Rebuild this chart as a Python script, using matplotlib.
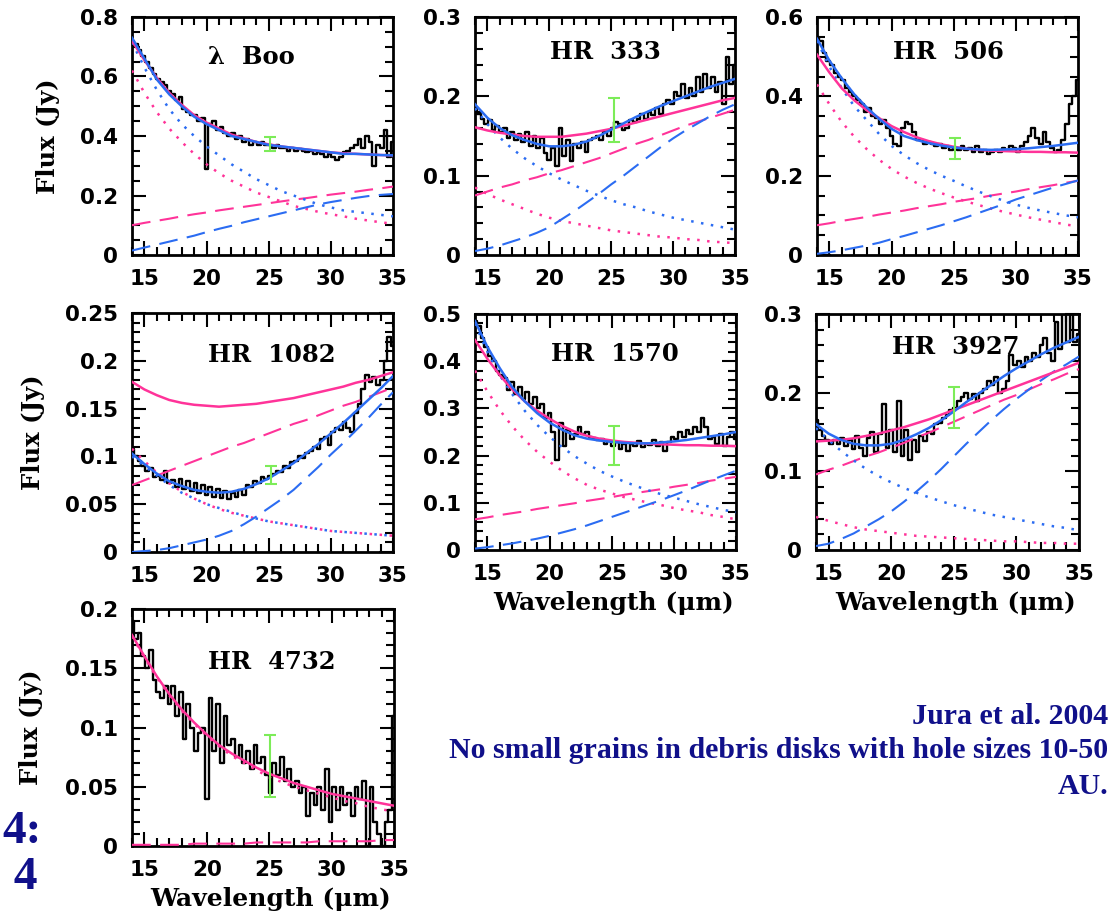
import numpy as np
import matplotlib.pyplot as plt
from matplotlib.ticker import MultipleLocator, FuncFormatter

plt.rcParams['font.family'] = 'DejaVu Sans'
plt.rcParams['font.weight'] = 'bold'

# wavelength grids (micron): model curves and IRS spectra
wave_model = np.arange(14, 36)
wave_spec = np.round(np.arange(14.0, 35.01, 0.3), 1)

# ---- lambda Boo ----
lboo_spec = [0.72, 0.71, 0.69, 0.67, 0.65, 0.63, 0.61, 0.59, 0.58, 0.57,
             0.55, 0.54, 0.52, 0.53, 0.49, 0.48, 0.47, 0.47, 0.45, 0.46,
             0.29, 0.44, 0.45, 0.42, 0.43, 0.41, 0.40, 0.41, 0.39, 0.40,
             0.38, 0.39, 0.37, 0.38, 0.37, 0.38, 0.37, 0.37, 0.36, 0.37,
             0.36, 0.36, 0.35, 0.36, 0.35, 0.355, 0.35, 0.345, 0.35, 0.34,
             0.345, 0.34, 0.33, 0.34, 0.33, 0.32, 0.33, 0.345, 0.35, 0.36,
             0.37, 0.39, 0.36, 0.40, 0.38, 0.30, 0.37, 0.36, 0.42, 0.33,
             0.38]
lboo_blue = [0.73, 0.66, 0.59, 0.54, 0.50, 0.465, 0.44, 0.42, 0.40, 0.39, 0.38,
             0.37, 0.365, 0.36, 0.355, 0.35, 0.345, 0.34, 0.34, 0.338, 0.336, 0.335]
lboo_blue_dot = [0.715, 0.63, 0.555, 0.49, 0.44, 0.40, 0.365, 0.335, 0.305, 0.28, 0.255,
                 0.235, 0.215, 0.20, 0.185, 0.17, 0.16, 0.15, 0.145, 0.14, 0.135, 0.13]
lboo_blue_dash = [0.015, 0.025, 0.035, 0.045, 0.055, 0.065, 0.077, 0.088, 0.098, 0.11, 0.12,
                  0.13, 0.14, 0.15, 0.16, 0.17, 0.178, 0.185, 0.192, 0.198, 0.202, 0.205]
lboo_pink = [0.72, 0.655, 0.595, 0.545, 0.505, 0.47, 0.445, 0.425, 0.405, 0.392, 0.38,
             0.372, 0.365, 0.36, 0.355, 0.35, 0.345, 0.342, 0.34, 0.338, 0.336, 0.335]
lboo_pink_dot = [0.62, 0.545, 0.48, 0.425, 0.38, 0.34, 0.305, 0.275, 0.25, 0.23, 0.21,
                 0.195, 0.18, 0.165, 0.155, 0.145, 0.137, 0.13, 0.122, 0.116, 0.11, 0.105]
lboo_pink_dash = [0.10, 0.108, 0.115, 0.122, 0.13, 0.137, 0.143, 0.15, 0.156, 0.162, 0.168,
                  0.174, 0.18, 0.186, 0.191, 0.197, 0.203, 0.208, 0.213, 0.219, 0.224, 0.23]

# ---- HR 333 ----
hr333_spec = [0.185, 0.178, 0.172, 0.165, 0.17, 0.158, 0.162, 0.155, 0.16, 0.148,
              0.155, 0.145, 0.152, 0.142, 0.155, 0.138, 0.15, 0.135, 0.148, 0.128,
              0.12, 0.135, 0.112, 0.16, 0.125, 0.145, 0.118, 0.14, 0.135, 0.142,
              0.13, 0.145, 0.148, 0.15, 0.145, 0.155, 0.15, 0.16, 0.168, 0.165,
              0.158, 0.16, 0.17, 0.168, 0.172, 0.178, 0.172, 0.18, 0.176, 0.185,
              0.178, 0.19, 0.196, 0.19, 0.205, 0.2, 0.215, 0.198, 0.21, 0.2,
              0.225, 0.205, 0.228, 0.21, 0.225, 0.205, 0.218, 0.19, 0.25, 0.215,
              0.24]
hr333_blue = [0.19, 0.173, 0.16, 0.151, 0.145, 0.14, 0.137, 0.137, 0.139, 0.143, 0.15,
              0.158, 0.166, 0.174, 0.181, 0.188, 0.194, 0.2, 0.206, 0.212, 0.217, 0.222]
hr333_blue_dot = [0.185, 0.165, 0.148, 0.134, 0.122, 0.112, 0.103, 0.095, 0.088, 0.081, 0.075,
                  0.069, 0.064, 0.06, 0.055, 0.051, 0.047, 0.044, 0.041, 0.038, 0.035, 0.032]
hr333_blue_dash = [0.005, 0.008, 0.012, 0.017, 0.022, 0.028, 0.035, 0.045, 0.055, 0.066, 0.077,
                   0.089, 0.1, 0.112, 0.124, 0.136, 0.147, 0.157, 0.166, 0.175, 0.183, 0.19]
hr333_pink = [0.161, 0.157, 0.154, 0.152, 0.15, 0.149, 0.149, 0.149, 0.151, 0.153, 0.156,
              0.159, 0.163, 0.167, 0.171, 0.175, 0.179, 0.183, 0.187, 0.191, 0.195, 0.198]
hr333_pink_dot = [0.085, 0.077, 0.07, 0.064, 0.058, 0.052, 0.047, 0.043, 0.04, 0.037, 0.034,
                  0.031, 0.029, 0.027, 0.025, 0.023, 0.022, 0.02, 0.019, 0.017, 0.016, 0.015]
hr333_pink_dash = [0.075, 0.08, 0.085, 0.089, 0.094, 0.098, 0.103, 0.107, 0.112, 0.117, 0.122,
                   0.128, 0.134, 0.14, 0.145, 0.151, 0.157, 0.163, 0.168, 0.173, 0.178, 0.183]

# ---- HR 506 ----
hr506_spec = [0.55, 0.54, 0.51, 0.49, 0.48, 0.46, 0.45, 0.44, 0.42, 0.41,
              0.40, 0.39, 0.38, 0.36, 0.37, 0.35, 0.345, 0.33, 0.34, 0.32,
              0.30, 0.28, 0.275, 0.32, 0.335, 0.33, 0.31, 0.29, 0.29, 0.28,
              0.285, 0.28, 0.275, 0.28, 0.27, 0.275, 0.265, 0.27, 0.265, 0.275,
              0.265, 0.27, 0.26, 0.275, 0.26, 0.265, 0.255, 0.26, 0.265, 0.26,
              0.27, 0.265, 0.275, 0.27, 0.26, 0.275, 0.285, 0.30, 0.32, 0.295,
              0.28, 0.31, 0.285, 0.27, 0.26, 0.265, 0.29, 0.33, 0.38, 0.40,
              0.44]
hr506_blue = [0.545, 0.49, 0.445, 0.405, 0.372, 0.343, 0.318, 0.3, 0.29, 0.282, 0.276,
              0.271, 0.268, 0.266, 0.265, 0.266, 0.267, 0.269, 0.272, 0.275, 0.279, 0.283]
hr506_blue_dot = [0.54, 0.475, 0.42, 0.375, 0.34, 0.305, 0.275, 0.252, 0.232, 0.215, 0.2,
                  0.187, 0.173, 0.16, 0.148, 0.137, 0.127, 0.119, 0.112, 0.106, 0.1, 0.095]
hr506_blue_dash = [0.003, 0.007, 0.012, 0.018, 0.024, 0.031, 0.04, 0.048, 0.057, 0.066, 0.075,
                   0.085, 0.095, 0.106, 0.117, 0.128, 0.14, 0.15, 0.16, 0.17, 0.179, 0.188]
hr506_pink = [0.505, 0.46, 0.42, 0.39, 0.365, 0.345, 0.325, 0.31, 0.297, 0.287, 0.279,
              0.273, 0.268, 0.265, 0.263, 0.262, 0.261, 0.26, 0.26, 0.259, 0.259, 0.258]
hr506_pink_dot = [0.43, 0.38, 0.335, 0.298, 0.267, 0.24, 0.217, 0.198, 0.182, 0.168, 0.156,
                  0.145, 0.135, 0.126, 0.117, 0.109, 0.102, 0.095, 0.089, 0.083, 0.077, 0.072]
hr506_pink_dash = [0.075, 0.08, 0.086, 0.091, 0.096, 0.102, 0.107, 0.112, 0.118, 0.123, 0.128,
                   0.134, 0.139, 0.144, 0.15, 0.155, 0.16, 0.166, 0.171, 0.176, 0.182, 0.187]

# ---- HR 1082 ----
hr1082_spec = [0.108, 0.1, 0.095, 0.09, 0.085, 0.088, 0.078, 0.08, 0.075, 0.085,
               0.072, 0.075, 0.068, 0.076, 0.066, 0.074, 0.064, 0.072, 0.062, 0.07,
               0.06, 0.068, 0.058, 0.066, 0.056, 0.064, 0.055, 0.062, 0.058, 0.065,
               0.06, 0.07, 0.068, 0.074, 0.072, 0.078, 0.076, 0.08, 0.082, 0.085,
               0.084, 0.09, 0.088, 0.094, 0.095, 0.1, 0.098, 0.104, 0.106, 0.11,
               0.108, 0.118, 0.12, 0.112, 0.125, 0.13, 0.128, 0.136, 0.13, 0.125,
               0.145, 0.155, 0.17, 0.185, 0.178, 0.183, 0.175, 0.18, 0.2, 0.225,
               0.215]
hr1082_blue = [0.103, 0.092, 0.082, 0.074, 0.069, 0.065, 0.063, 0.062, 0.063, 0.066, 0.071,
               0.077, 0.085, 0.093, 0.103, 0.113, 0.124, 0.135, 0.147, 0.159, 0.171, 0.184]
hr1082_blue_dot = [0.1, 0.09, 0.08, 0.07, 0.062, 0.056, 0.05, 0.046, 0.042, 0.038, 0.035,
                   0.032, 0.03, 0.028, 0.026, 0.024, 0.022, 0.021, 0.02, 0.019, 0.018, 0.017]
hr1082_blue_dash = [0.0, 0.001, 0.002, 0.004, 0.007, 0.01, 0.013, 0.017, 0.022, 0.029, 0.037,
                    0.046, 0.055, 0.065, 0.077, 0.089, 0.102, 0.114, 0.127, 0.14, 0.154, 0.167]
hr1082_pink = [0.178, 0.17, 0.164, 0.159, 0.156, 0.154, 0.153, 0.152, 0.153, 0.154, 0.155,
               0.157, 0.159, 0.161, 0.164, 0.167, 0.17, 0.173, 0.177, 0.18, 0.184, 0.188]
hr1082_pink_dot = [0.108, 0.095, 0.083, 0.072, 0.063, 0.056, 0.05, 0.045, 0.041, 0.038, 0.035,
                   0.032, 0.03, 0.028, 0.026, 0.024, 0.022, 0.021, 0.02, 0.019, 0.018, 0.017]
hr1082_pink_dash = [0.07, 0.075, 0.08, 0.085, 0.09, 0.095, 0.1, 0.105, 0.11, 0.114, 0.119,
                    0.124, 0.129, 0.134, 0.138, 0.143, 0.148, 0.153, 0.157, 0.162, 0.167, 0.172]

# ---- HR 1570 ----
hr1570_spec = [0.485, 0.475, 0.45, 0.43, 0.41, 0.4, 0.38, 0.37, 0.365, 0.34,
               0.355, 0.33, 0.345, 0.32, 0.335, 0.31, 0.325, 0.3, 0.31, 0.28,
               0.29, 0.25, 0.19, 0.27, 0.22, 0.255, 0.235, 0.245, 0.26, 0.245,
               0.25, 0.24, 0.238, 0.232, 0.235, 0.225, 0.23, 0.22, 0.228, 0.215,
               0.225, 0.21, 0.225, 0.22, 0.23, 0.218, 0.225, 0.222, 0.232, 0.22,
               0.228, 0.21, 0.228, 0.24, 0.235, 0.25, 0.24, 0.255, 0.245, 0.26,
               0.25, 0.28, 0.26, 0.235, 0.24, 0.225, 0.245, 0.22, 0.24, 0.25,
               0.235]
hr1570_blue = [0.485, 0.43, 0.385, 0.345, 0.315, 0.29, 0.27, 0.255, 0.243, 0.236, 0.232,
               0.229, 0.227, 0.226, 0.226, 0.228, 0.23, 0.233, 0.237, 0.241, 0.245, 0.25]
hr1570_blue_dot = [0.48, 0.42, 0.37, 0.33, 0.295, 0.265, 0.24, 0.218, 0.199, 0.183, 0.168,
                   0.156, 0.145, 0.135, 0.126, 0.118, 0.111, 0.104, 0.097, 0.091, 0.085, 0.08]
hr1570_blue_dash = [0.003, 0.006, 0.01, 0.014, 0.019, 0.024, 0.03, 0.037, 0.044, 0.052, 0.061,
                    0.07, 0.079, 0.088, 0.097, 0.106, 0.116, 0.126, 0.137, 0.148, 0.158, 0.168]
hr1570_pink = [0.445, 0.405, 0.37, 0.34, 0.315, 0.295, 0.278, 0.263, 0.251, 0.242, 0.236,
               0.232, 0.229, 0.227, 0.225, 0.224, 0.223, 0.222, 0.222, 0.221, 0.221, 0.22]
hr1570_pink_dot = [0.38, 0.336, 0.296, 0.262, 0.233, 0.208, 0.187, 0.168, 0.152, 0.138, 0.128,
                   0.12, 0.112, 0.106, 0.1, 0.095, 0.089, 0.084, 0.08, 0.074, 0.07, 0.065]
hr1570_pink_dash = [0.065, 0.069, 0.074, 0.078, 0.082, 0.087, 0.091, 0.095, 0.099, 0.104, 0.108,
                    0.112, 0.117, 0.121, 0.125, 0.129, 0.134, 0.138, 0.142, 0.147, 0.151, 0.155]

# ---- HR 3927 ----
hr3927_spec = [0.165, 0.152, 0.145, 0.14, 0.135, 0.14, 0.135, 0.142, 0.132, 0.14,
               0.128, 0.145, 0.13, 0.12, 0.142, 0.15, 0.125, 0.148, 0.185, 0.13,
               0.152, 0.125, 0.19, 0.12, 0.152, 0.115, 0.14, 0.125, 0.145, 0.138,
               0.15, 0.148, 0.16, 0.162, 0.168, 0.172, 0.178, 0.18, 0.19, 0.195,
               0.2, 0.192, 0.198, 0.19, 0.2, 0.205, 0.215, 0.21, 0.22, 0.2,
               0.205, 0.215, 0.248, 0.235, 0.24, 0.232, 0.245, 0.24, 0.25, 0.245,
               0.26, 0.27, 0.25, 0.24, 0.29, 0.255, 0.3, 0.265, 0.3, 0.265,
               0.275]
hr3927_blue = [0.16, 0.148, 0.14, 0.135, 0.133, 0.133, 0.135, 0.14, 0.147, 0.155, 0.165,
               0.176, 0.188, 0.199, 0.21, 0.221, 0.231, 0.24, 0.249, 0.257, 0.264, 0.271]
hr3927_blue_dot = [0.155, 0.14, 0.126, 0.114, 0.103, 0.094, 0.086, 0.079, 0.073, 0.067, 0.062,
                   0.057, 0.053, 0.049, 0.045, 0.042, 0.039, 0.036, 0.033, 0.03, 0.028, 0.025]
hr3927_blue_dash = [0.005, 0.008, 0.014, 0.021, 0.03, 0.039, 0.049, 0.061, 0.074, 0.088, 0.103,
                    0.119, 0.135, 0.15, 0.165, 0.179, 0.192, 0.204, 0.216, 0.227, 0.236, 0.246]
hr3927_pink = [0.138, 0.139, 0.14, 0.142, 0.145, 0.148, 0.152, 0.156, 0.161, 0.166, 0.172,
               0.178, 0.184, 0.19, 0.196, 0.202, 0.208, 0.214, 0.22, 0.226, 0.232, 0.238]
hr3927_pink_dot = [0.042, 0.037, 0.033, 0.029, 0.026, 0.024, 0.022, 0.02, 0.018, 0.017, 0.016,
                   0.015, 0.014, 0.013, 0.012, 0.011, 0.011, 0.01, 0.009, 0.009, 0.008, 0.008]
hr3927_pink_dash = [0.096, 0.102, 0.107, 0.113, 0.119, 0.124, 0.13, 0.136, 0.143, 0.149, 0.156,
                    0.163, 0.17, 0.177, 0.184, 0.191, 0.197, 0.204, 0.211, 0.217, 0.224, 0.23]

# ---- HR 4732 ----
hr4732_spec = [0.19, 0.175, 0.18, 0.16, 0.15, 0.165, 0.14, 0.13, 0.125, 0.135,
               0.12, 0.135, 0.11, 0.13, 0.09, 0.12, 0.1, 0.08, 0.095, 0.1,
               0.04, 0.125, 0.08, 0.12, 0.07, 0.11, 0.085, 0.09, 0.075, 0.085,
               0.07, 0.08, 0.065, 0.085, 0.07, 0.075, 0.06, 0.045, 0.07, 0.06,
               0.075, 0.055, 0.065, 0.05, 0.055, 0.045, 0.05, 0.025, 0.045, 0.035,
               0.05, 0.03, 0.065, 0.02, 0.05, 0.03, 0.05, 0.035, 0.045, 0.025,
               0.05, 0.04, 0.055, 0.0, 0.05, 0.02, 0.01, 0.0, 0.02, 0.03,
               0.11]
hr4732_pink = [0.178, 0.16, 0.143, 0.128, 0.115, 0.104, 0.094, 0.085, 0.078, 0.072, 0.066,
               0.061, 0.057, 0.053, 0.05, 0.047, 0.044, 0.042, 0.04, 0.038, 0.036, 0.034]
hr4732_pink_dot = [0.177, 0.159, 0.142, 0.127, 0.114, 0.103, 0.093, 0.084, 0.076, 0.07, 0.064,
                   0.058, 0.054, 0.05, 0.047, 0.044, 0.041, 0.038, 0.036, 0.033, 0.031, 0.029]
hr4732_pink_dash = [0.001, 0.001, 0.001, 0.001, 0.001, 0.002, 0.002, 0.002, 0.002, 0.002, 0.003,
                    0.003, 0.003, 0.003, 0.003, 0.004, 0.004, 0.004, 0.004, 0.004, 0.005, 0.005]

# 25 micron photometry with error bars: (wavelength, low, high)
lboo_phot = (25.1, 0.350, 0.398)
hr333_phot = (25.2, 0.143, 0.198)
hr506_phot = (25.1, 0.243, 0.296)
hr1082_phot = (25.2, 0.071, 0.090)
hr1570_phot = (25.2, 0.181, 0.263)
hr3927_phot = (25.0, 0.155, 0.207)
hr4732_phot = (25.1, 0.041, 0.094)

BLUE = "#2b6cf2"
PINK = "#ff3399"
GREEN = "#7cec58"
NAVY = "#10108a"

W, H = 1111, 914
fig = plt.figure(figsize=(W / 100, H / 100), dpi=100)

DOT = (0, (1, 3))
DASH = (0, (9, 4.5))


def add_panel(box, name, title_y, ylim, major, minor, spec, blue, pink, phot,
              xlab=False, ylab=None):
    l, t, r, b = box
    ax = fig.add_axes([l / W, 1 - b / H, (r - l) / W, (b - t) / H])
    ax.step(wave_spec, spec, where='mid', color='black', lw=1.7, zorder=2)
    for curves, col in ((pink, PINK), (blue, BLUE)):
        if curves is None:
            continue
        total, dot, dash = curves
        ax.plot(wave_model, dot, color=col, lw=1.8, ls=DOT, zorder=3)
        ax.plot(wave_model, dash, color=col, lw=1.5, ls=DASH, zorder=3)
        ax.plot(wave_model, total, color=col, lw=1.8, zorder=4)
    w, lo, hi = phot
    ax.errorbar([w], [(lo + hi) / 2], yerr=[[(hi - lo) / 2], [(hi - lo) / 2]],
                fmt='none', ecolor=GREEN, elinewidth=1.5, capsize=4, capthick=1.5, zorder=5)

    ax.set_xlim(14, 35)
    ax.set_ylim(*ylim)
    ax.xaxis.set_major_locator(MultipleLocator(5))
    ax.xaxis.set_minor_locator(MultipleLocator(1))
    ax.yaxis.set_major_locator(MultipleLocator(major))
    ax.yaxis.set_minor_locator(MultipleLocator(minor))
    ax.yaxis.set_major_formatter(FuncFormatter(lambda v, p: f"{v:g}"))
    ax.tick_params(which='both', direction='in', top=True, right=True, width=1.5)
    ax.tick_params(which='major', length=10)
    ax.tick_params(which='minor', length=5.5)
    ax.tick_params(axis='x', pad=10, labelsize=15.5)
    ax.tick_params(axis='y', pad=10, labelsize=15.5)
    for s in ax.spines.values():
        s.set_linewidth(2)

    ax.text(0.29, title_y, name, transform=ax.transAxes, ha='left', va='center',
            family='DejaVu Serif', fontsize=17.5, fontweight='bold')
    if xlab:
        ax.set_xlabel("Wavelength (\u03bcm)", family='DejaVu Serif', fontsize=18,
                      fontweight='bold')
        ax.xaxis.set_label_coords(0.53, -0.172)
    if ylab is not None:
        ax.set_ylabel("Flux (Jy)", family='DejaVu Serif', fontsize=17.5, fontweight='bold')
        ax.yaxis.set_label_coords(ylab, 0.5)
    return ax


add_panel((132, 17, 393, 255), "\u03bb  Boo", 0.832, (0, 0.8), 0.2, 0.05, lboo_spec,
          (lboo_blue, lboo_blue_dot, lboo_blue_dash),
          (lboo_pink, lboo_pink_dot, lboo_pink_dash), lboo_phot, ylab=-0.276)
add_panel((475, 17, 735, 255), "HR  333", 0.853, (0, 0.3), 0.1, 0.02, hr333_spec,
          (hr333_blue, hr333_blue_dot, hr333_blue_dash),
          (hr333_pink, hr333_pink_dot, hr333_pink_dash), hr333_phot)
add_panel((817, 17, 1078, 255), "HR  506", 0.853, (0, 0.6), 0.2, 0.05, hr506_spec,
          (hr506_blue, hr506_blue_dot, hr506_blue_dash),
          (hr506_pink, hr506_pink_dot, hr506_pink_dash), hr506_phot)
add_panel((132, 313, 393, 552), "HR  1082", 0.824, (0, 0.25), 0.05, 0.01, hr1082_spec,
          (hr1082_blue, hr1082_blue_dot, hr1082_blue_dash),
          (hr1082_pink, hr1082_pink_dot, hr1082_pink_dash), hr1082_phot, ylab=-0.333)
add_panel((475, 314, 736, 550), "HR  1570", 0.83, (0, 0.5), 0.1, 0.02, hr1570_spec,
          (hr1570_blue, hr1570_blue_dot, hr1570_blue_dash),
          (hr1570_pink, hr1570_pink_dot, hr1570_pink_dash), hr1570_phot, xlab=True)
add_panel((816, 314, 1079, 550), "HR  3927", 0.86, (0, 0.3), 0.1, 0.02, hr3927_spec,
          (hr3927_blue, hr3927_blue_dot, hr3927_blue_dash),
          (hr3927_pink, hr3927_pink_dot, hr3927_pink_dash), hr3927_phot, xlab=True)
add_panel((132, 609, 394, 846), "HR  4732", 0.777, (0, 0.2), 0.05, 0.01, hr4732_spec,
          None, (hr4732_pink, hr4732_pink_dot, hr4732_pink_dash), hr4732_phot,
          xlab=True, ylab=-0.34)

# slide caption
note = dict(family='Liberation Serif', fontweight='bold', color=NAVY, fontsize=21.5,
            va='center', ha='right')
fig.text(1108 / W, 1 - 716 / H, "Jura et al. 2004", **note)
fig.text(1108 / W, 1 - 750 / H, "No small grains in debris disks with hole sizes 10-50", **note)
fig.text(1108 / W, 1 - 786 / H, "AU.", **note)
big = dict(note, fontsize=34, ha='left')
fig.text(2 / W, 1 - 832 / H, "4:", **big)
fig.text(2 / W, 1 - 878 / H, " 4", **big)

fig.savefig("out.png", dpi=100, facecolor='white')
